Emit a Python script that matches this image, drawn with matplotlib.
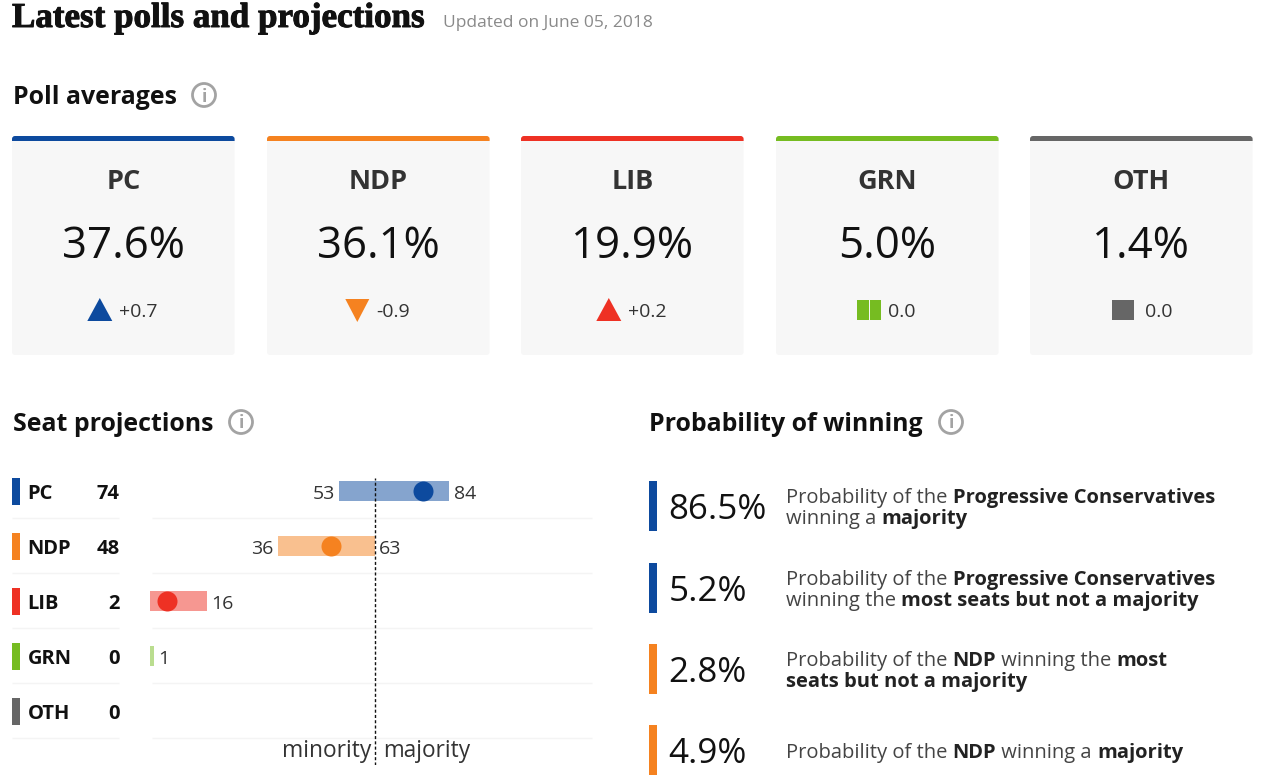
import matplotlib
matplotlib.use("Agg")
import matplotlib.pyplot as plt
import matplotlib.patheffects as pe
from matplotlib.patches import FancyBboxPatch, Rectangle, Circle, Polygon
from matplotlib.transforms import Affine2D

plt.rcParams['font.family'] = ['Open Sans', 'DejaVu Sans']

parties = ["PC", "NDP", "LIB", "GRN", "OTH"]
colors = ["#0d4a9e", "#f58220", "#ee3124", "#76bc21", "#666666"]
poll_avg = [37.6, 36.1, 19.9, 5.0, 1.4]
poll_change = [0.7, -0.9, 0.2, 0.0, 0.0]
seat_proj = [74, 48, 2, 0, 0]
seat_low = [53, 36, 0, 0, 0]
seat_high = [84, 63, 16, 1, 0]
majority_seats = 63
prob_values = [86.5, 5.2, 2.8, 4.9]
prob_colors = [colors[0], colors[0], colors[1], colors[1]]
prob_text = [
    [[("Probability of the ", False), ("Progressive Conservatives", True)],
     [("winning a ", False), ("majority", True)]],
    [[("Probability of the ", False), ("Progressive Conservatives", True)],
     [("winning the ", False), ("most seats but not a majority", True)]],
    [[("Probability of the ", False), ("NDP", True), (" winning the ", False), ("most", True)],
     [("seats but not a majority", True)]],
    [[("Probability of the ", False), ("NDP", True), (" winning a ", False), ("majority", True)]],
]

W, H = 1269, 783
fig = plt.figure(figsize=(W / 100, H / 100), dpi=100, facecolor="white")
bg = fig.add_axes([0, 0, 1, 1])
bg.set_xlim(0, W)
bg.set_ylim(H, 0)
bg.axis("off")


def T(x, y, s, size, weight="normal", color="#111111", ha="left", **kw):
    return bg.text(x, y, s, fontsize=size, fontweight=weight, color=color,
                   ha=ha, va="baseline", **kw)


def info(x, y):
    bg.add_patch(Circle((x, y), 11.5, fc="white", ec="#a3a3a3", lw=2))
    T(x, y + 6.5, "i", 12.5, color="#a3a3a3", ha="center", weight="bold")


# Header
title = T(12, 27, "Latest polls and projections", 25.2, weight="bold", family="Liberation Serif",
          color="#111111")
title.set_path_effects([pe.withStroke(linewidth=0.7, foreground="#111111")])
T(443, 27, "Updated on June 05, 2018", 12.55, color="#8a8a8a")
T(13, 104, "Poll averages", 17.9, weight="bold")
info(204, 95)
T(13, 431, "Seat projections", 17.9, weight="bold")
info(241, 422)
T(649, 431, "Probability of winning", 17.9, weight="bold")
info(951, 422)

# Poll cards
card_left = [12, 267, 521, 776, 1030]
card_w = 222.6
for left, name, col, avg, chg in zip(card_left, parties, colors, poll_avg, poll_change):
    bg.add_patch(FancyBboxPatch((left + 3, 139), card_w - 6, 213,
                                boxstyle="round,pad=3,rounding_size=3", fc="#f7f7f7", ec="none"))
    bg.add_patch(FancyBboxPatch((left + 3, 139), card_w - 6, 2,
                                boxstyle="round,pad=3,rounding_size=3", fc=col, ec="none"))
    bg.add_patch(Rectangle((left, 141), card_w, 3, fc="#f7f7f7", ec="none"))
    cx = left + card_w / 2
    T(cx, 189, name, 19.5, weight="bold", color="#333333", ha="center")
    T(cx, 258, f"{avg:.1f}%", 31.5, color="#111111", ha="center")
    lbl = f"{chg:+.1f}" if chg != 0 else f"{abs(chg):.1f}"
    if chg > 0:
        bg.add_patch(Polygon([(cx - 36, 321), (cx - 11, 321), (cx - 23.5, 298)], fc=col, ec="none"))
        T(cx - 4.5, 317, lbl, 14, color="#333333")
    elif chg < 0:
        bg.add_patch(Polygon([(cx - 33, 299), (cx - 9, 299), (cx - 21, 322)], fc=col, ec="none"))
        T(cx - 2, 317, lbl, 14, color="#333333")
    elif name == "GRN":
        bg.add_patch(Rectangle((cx - 30, 300), 11.5, 20, fc=col, ec="none"))
        bg.add_patch(Rectangle((cx - 17.5, 300), 11.5, 20, fc=col, ec="none"))
        T(cx + 1, 317, lbl, 14, color="#333333")
    else:
        bg.add_patch(Rectangle((cx - 29.5, 300), 22, 20, fc=col, ec="none"))
        T(cx + 4, 317, lbl, 14, color="#333333")

# Seat table, left column
row_y0, row_gap = 491, 55
for i, (name, col, seats) in enumerate(zip(parties, colors, seat_proj)):
    yc = row_y0 + i * row_gap
    bg.add_patch(Rectangle((12, yc - 13.5), 8, 27, fc=col, ec="none"))
    T(27.5, yc + 8, name, 14.5, weight="bold", color="#111111")
    T(119.5, yc + 8, str(seats), 14.5, weight="bold", color="#111111", ha="right")
    bg.plot([12, 119], [yc + 26.5] * 2, color="#f4f4f4", lw=1, solid_capstyle="butt")
    bg.plot([152, 592], [yc + 26.5] * 2, color="#f4f4f4", lw=1, solid_capstyle="butt")

# Seat range chart on a real seat scale: zero at x=150
px_per_seat = 3.565
ax_l, ax_r, ax_t, ax_b = 150, 592, 478, 765
ax = fig.add_axes([ax_l / W, 1 - ax_b / H, (ax_r - ax_l) / W, (ax_b - ax_t) / H])
ax.patch.set_alpha(0)
ax.set_xlim(0, (ax_r - ax_l) / px_per_seat)
ax.set_ylim((ax_b - row_y0) / row_gap, (ax_t - row_y0) / row_gap)
ax.axis("off")
dot_shift = ax.transData + Affine2D().translate(9.5, 0)
for i, (lo, hi, val, col) in enumerate(zip(seat_low, seat_high, seat_proj, colors)):
    if hi == 0:
        continue
    ax.barh(i, hi - lo, left=lo, height=20 / row_gap, color=col, alpha=0.5, lw=0)
    if val > 0:
        ax.plot([val], [i], "o", ms=20 * 72 / 100, color=col, mew=0, transform=dot_shift, zorder=4)
    if lo > 0:
        ax.annotate(str(lo), (lo, i), xytext=(-3.2, -5.8), textcoords="offset points",
                    ha="right", va="baseline", fontsize=14, color="#333333")
    ax.annotate(str(hi), (hi, i), xytext=(3.0, -5.8), textcoords="offset points",
                ha="left", va="baseline", fontsize=14, color="#333333")
ax.axvline(majority_seats, color="#111111", lw=1, ls=(0, (2.2, 1.6)), zorder=5)
T(371, 757, "minority", 16.4, color="#333333", ha="right")
T(383, 757, "majority", 16.3, color="#333333")

# Probabilities
bar_tops = [481, 563, 644, 725]
line_base = [[503, 524], [585, 606], [666, 687], [758]]
fig.canvas.draw()
rend = fig.canvas.get_renderer()
for top, val, col, lines, bases in zip(bar_tops, prob_values, prob_colors, prob_text, line_base):
    bg.add_patch(Rectangle((649, top), 8, 50, fc=col, ec="none"))
    T(668.5, top + 38, f"{val:.1f}%", 25.2, color="#111111")
    for parts, by in zip(lines, bases):
        x = 786
        for s, bold in parts:
            T(x, by, s, 14.5, weight="bold" if bold else "normal", color="#222222" if bold else "#444444")
            w = bg.text(0, 0, s.replace(" ", "\u00a0"), fontsize=14.5,
                        fontweight="bold" if bold else "normal", alpha=0)
            x += w.get_window_extent(rend).width
            w.remove()

fig.savefig("out.png", dpi=100, facecolor="white")
